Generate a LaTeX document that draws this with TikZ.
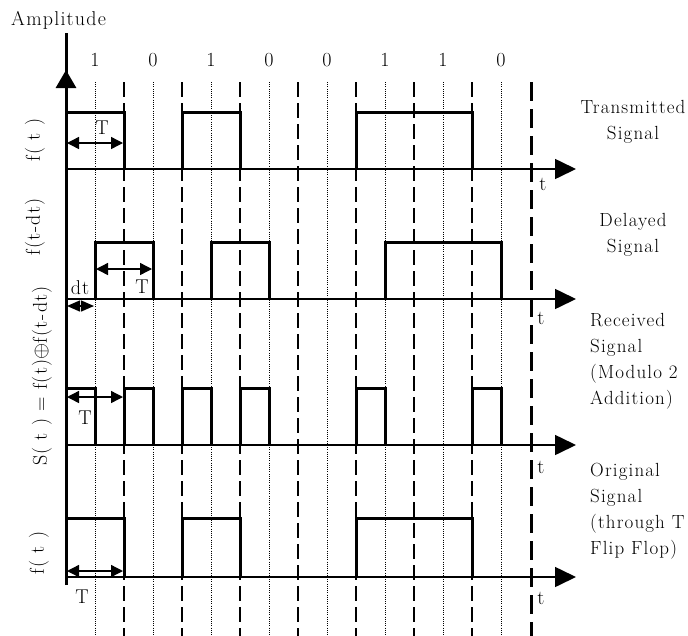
\documentclass[tikz,border=0pt]{standalone}
\usepackage{fontspec}
\setmainfont{Latin Modern Roman}[LetterSpace=6]
\usetikzlibrary{arrows.meta}
\begin{document}
\begin{tikzpicture}[x=1pt,y=-1pt,
  txt/.style={font=\fontsize{20}{26}\selectfont, text=black, inner sep=0pt},
  rtxt/.style={font=\fontsize{19}{26}\selectfont, text=black, inner sep=0pt},
  rot/.style={txt, rotate=90},
  wavepulse/.style={draw=black, line width=3pt, line join=miter},
  base/.style={line width=1.6pt, -{Triangle[length=21pt,width=20pt]}},
  dashln/.style={line width=2pt, dash pattern=on 15pt off 6pt},
  thickdash/.style={line width=3pt, dash pattern=on 19pt off 8pt},
  dotln/.style={line width=1pt, dash pattern=on 1pt off 1.2pt},
  tarrow/.style={line width=1.4pt, {Triangle[length=12pt,width=12pt]}-{Triangle[length=12pt,width=12pt]}},
]
\useasboundingbox (0,0) rectangle (688,635);

% grid lines
\foreach \x in {124,182,240,298,356,414,472}
  \draw[dashln] (\x,82) -- (\x,640);
\draw[thickdash] (531,82) -- (531,640);
\foreach \x in {95,153,211,269,327,385,443,501}
  \draw[dotln] (\x,82) -- (\x,640);

% vertical axis
\draw[line width=3pt] (66,585) -- (66,33);
\draw[line width=3pt, -{Triangle[length=18pt,width=20pt]}] (66,110) -- (66,70);

% bit labels
\foreach \x/\b [count=\i] in {95/1,153/0,211/1,269/0,327/0,385/1,443/1,501/0}
  \node[txt] (bit\i) at (\x,60) {\b};

% axes
\draw[base] (66,169) -- (576,169);
\draw[base] (66,299) -- (576,299);
\draw[base] (66,445) -- (576,445);
\draw[base] (66,577) -- (576,577);

% signal 1 transmitted
\draw[wavepulse] (66,112) -- (124,112) -- (124,169);
\draw[wavepulse] (182,169) -- (182,112) -- (240,112) -- (240,169);
\draw[wavepulse] (356,169) -- (356,112) -- (472,112) -- (472,169);

% signal 2 delayed
\draw[wavepulse] (95,299) -- (95,242) -- (153,242) -- (153,299);
\draw[wavepulse] (211,299) -- (211,242) -- (269,242) -- (269,299);
\draw[wavepulse] (385,299) -- (385,242) -- (501,242) -- (501,299);

% signal 3 received
\draw[wavepulse] (66,388) -- (95,388) -- (95,445);
\foreach \a/\b in {124/153,182/211,240/269,356/385,472/501}
  \draw[wavepulse] (\a,445) -- (\a,388) -- (\b,388) -- (\b,445);

% signal 4 original
\draw[wavepulse] (66,518) -- (124,518) -- (124,577);
\draw[wavepulse] (182,577) -- (182,518) -- (240,518) -- (240,577);
\draw[wavepulse] (356,577) -- (356,518) -- (472,518) -- (472,577);

% T arrows
\coordinate (t1a) at (67,143); \coordinate (t1b) at (123,143);
\draw[tarrow] (t1a) -- (t1b);
\coordinate (t2a) at (96,269); \coordinate (t2b) at (152,269);
\draw[tarrow] (t2a) -- (t2b);
\coordinate (t3a) at (67,397); \coordinate (t3b) at (123,397);
\draw[tarrow] (t3a) -- (t3b);
\coordinate (t4a) at (67,571); \coordinate (t4b) at (123,571);
\draw[tarrow] (t4a) -- (t4b);
\coordinate (dta) at (67,306); \coordinate (dtb) at (94,306);
\draw[line width=1.4pt, {Triangle[length=13pt,width=11pt]}-{Triangle[length=13pt,width=11pt]}] (dta) -- (dtb);

\node[txt] (T1) at (102,128) {T};
\node[txt] (T2) at (142,287) {T};
\node[txt] (T3) at (85,418) {T};
\node[txt] (T4) at (82,597) {T};
\node[txt] (dt) at (80,288) {dt};

% t labels
\node[txt] (ta) at (543,184) {t};
\node[txt] (tb) at (541,318) {t};
\node[txt] (tc) at (541,467) {t};
\node[txt] (td) at (541,598) {t};

% left labels
\node[txt, anchor=west] (amp) at (11,20) {Amplitude};
\node[rot] (l1) at (35,140) {f( t )};
\node[rot] (l2) at (35,227) {f(t-dt)};
\node[rot] (l3) at (42,376) {S( t ) = f(t)$\oplus$f(t-dt)};
\node[rot] (l4) at (39,553) {f( t )};

% right labels
\node[rtxt, align=center] (r1) at (633,122) {Transmitted\\Signal};
\node[rtxt, align=center] (r2) at (633,235) {Delayed\\Signal};
\node[rtxt, align=left, anchor=north west] (r3) at (590,313) {Received\\Signal\\(Modulo 2\\Addition)};
\node[rtxt, align=left, anchor=north west] (r4) at (590,463) {Original\\Signal\\(through T\\Flip Flop)};
\end{tikzpicture}
\end{document}
